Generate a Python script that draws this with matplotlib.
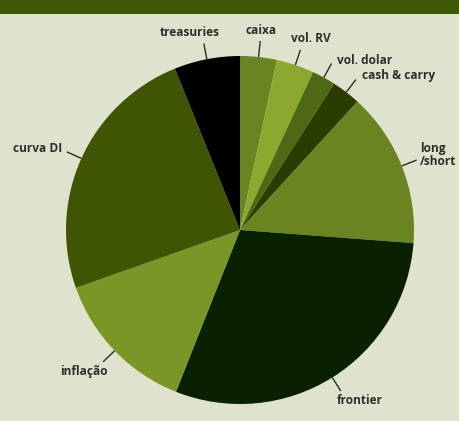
import matplotlib
matplotlib.use("Agg")
import matplotlib.pyplot as plt
import numpy as np

# data
labels = ["caixa", "vol. RV", "vol. dolar", "cash & carry", "long\n/short",
          "frontier", "inflação", "curva DI", "treasuries"]
values = [3.4, 3.5, 2.2, 2.7, 14.4, 29.8, 13.6, 24.3, 6.1]
colors = ["#6a8422", "#8da82e", "#4e6914", "#2b3c00", "#6a8422",
          "#0a2100", "#7a9626", "#405503", "#000000"]

# label text anchors (pixel coords, y from top) and alignment
label_pos = [(261, 31, "center"), (311, 39, "center"), (365, 60, "center"),
             (399, 76, "center"), (420, 155, "left"), (360, 401, "center"),
             (84, 371, "center"), (38, 149, "center"), (190, 32, "center")]

W, H = 459, 421
BG = "#dfe3cd"
fig = plt.figure(figsize=(W / 100, H / 100), dpi=100, facecolor=BG)
ax = fig.add_axes([0, 0, 1, 1])
ax.set_facecolor(BG)

cx, cy, R = 240, H - 230, 174
wedges, _ = ax.pie(values, colors=colors, startangle=90, counterclock=False,
                   center=(cx, cy), radius=R, frame=True,
                   wedgeprops=dict(linewidth=0))
ax.set_xlim(0, W)
ax.set_ylim(0, H)
ax.axis("off")

# top bar
ax.add_patch(plt.Rectangle((0, H - 14), W, 14, color="#3e5905", lw=0))

for w, lab, (tx, ty, ha) in zip(wedges, labels, label_pos):
    ang = np.deg2rad((w.theta1 + w.theta2) / 2)
    x0, y0 = cx + R * np.cos(ang), cy + R * np.sin(ang)
    x1, y1 = cx + (R + 16) * np.cos(ang), cy + (R + 16) * np.sin(ang)
    ax.plot([x0, x1], [y0, y1], color="#2a2a2a", lw=1.0, solid_capstyle="butt")
    ax.text(tx, H - ty, lab, ha=ha, va="center", fontsize=8.6,
            fontweight="bold", family="Open Sans", color="#2e2e2e",
            linespacing=1.0)

fig.savefig("out.png", dpi=100, facecolor=BG)
